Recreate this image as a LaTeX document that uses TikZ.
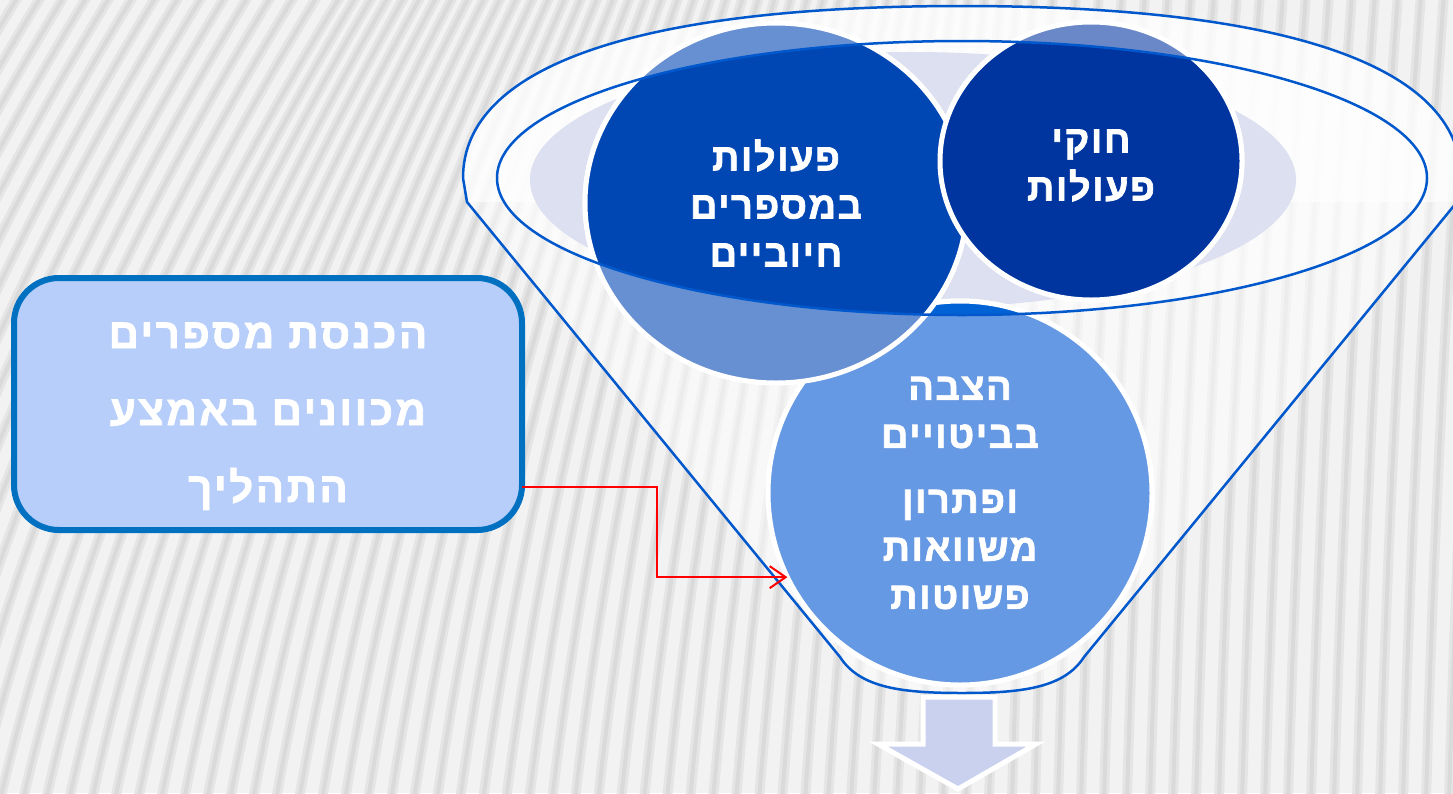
\documentclass[tikz,border=0pt]{standalone}
\usepackage{fontspec}
\usetikzlibrary{shapes.geometric,arrows.meta}
\newfontfamily\hebfont[Script=Hebrew,LetterSpace=4,FakeBold=1.8]{Liberation Sans Bold}
\newfontfamily\boxfont[Script=Hebrew,LetterSpace=6,FakeBold=1.8]{Liberation Sans Bold}
\TeXXeTstate=1

\definecolor{bgcol}{HTML}{F2F2F2}
\definecolor{stripecol}{HTML}{DADADA}
\definecolor{stripesoft}{HTML}{E5E5E5}
\definecolor{funnelblue}{HTML}{0058CC}
\definecolor{lavender}{HTML}{DCE0F0}
\definecolor{boxfill}{HTML}{B8CEFA}
\definecolor{boxline}{HTML}{0070C0}
\definecolor{arrowfill}{HTML}{C9D1EF}
\definecolor{lightthree}{HTML}{6699E3}
\definecolor{darkthree}{HTML}{0062D4}
\definecolor{lightone}{HTML}{6690D2}
\definecolor{darkone}{HTML}{0047B4}
\definecolor{lighttwo}{HTML}{6A88C8}
\definecolor{darktwo}{HTML}{0035A0}

% bubbles: centre / x radius / y radius / light fill / dark fill
\def\blist{{(960,493)/192/192/lightthree/darkthree}, {(776,203)/191/180/lightone/darkone}, {(1091,161)/151/139/lighttwo/darktwo}}

\tikzstyle{bubble}=[draw=white, line width=5pt]
\tikzstyle{funnelline}=[draw=funnelblue, line width=2.5pt]
\tikzstyle{bubbletext}=[ellipse, inner sep=0pt, outer sep=0pt, text=white, align=center,
  font=\hebfont\fontsize{38}{48}\selectfont]
\tikzstyle{inputbox}=[rectangle, rounded corners=45pt, draw=boxline, line width=6pt, fill=boxfill,
  minimum width=508pt, minimum height=252pt, outer sep=0pt, text=white, align=center,
  font=\boxfont\fontsize{42}{77}\selectfont]
\tikzstyle{feedarrow}=[draw=red, line width=2pt, -{Straight Barb[length=16pt, width=22pt]}]
\tikzstyle{downarrow}=[draw=white, line width=5pt, fill=arrowfill, line join=miter]

\begin{document}
\begin{tikzpicture}[x=1pt, y=-1pt]
  \useasboundingbox (0,0) rectangle (1453,793);

  % striped background
  \fill[bgcol] (0,0) rectangle (1453,793);
  \begin{scope}
    \clip (0,0) rectangle (1453,793);
    \foreach \i in {-20,...,64} {
      \pgfmathsetmacro\xb{\i*23}
      \pgfmathsetmacro\f{max(0.12, min(1, 1-0.88*\xb/1000))}
      \pgfmathsetmacro\xt{\xb+341*\f}
      \pgfmathsetmacro\ca{\xb+0.24*\f*264}
      \pgfmathsetmacro\cb{\xt-0.62*\f*264}
      \draw[stripesoft, line width=10pt] (\xb,800) .. controls (\ca,529) and (\cb,264) .. (\xt,-5);
      \draw[stripecol, line width=4pt] (\xb,800) .. controls (\ca,529) and (\cb,264) .. (\xt,-5);
    }
  \end{scope}

  % funnel body and top
  \fill[white, opacity=.5] (467,202) -- (463,178) .. controls (463,66) and (638,6) .. (962,6)
    .. controls (1286,6) and (1461,66) .. (1461,178) -- (1457,202) -- (1084,657)
    .. controls (1064,688) and (1022,693) .. (962,693) .. controls (902,693) and (860,688) .. (840,657) -- cycle;
  \fill[white, opacity=.6] (467,202) -- (463,178) .. controls (463,66) and (638,6) .. (962,6)
    .. controls (1286,6) and (1461,66) .. (1461,178) -- (1457,202) -- cycle;
  \fill[white, opacity=.5] (962,178) ellipse [x radius=465, y radius=137];
  \fill[lavender] (913,180) ellipse [x radius=383, y radius=128];

  % bubbles
  \foreach \pos/\rx/\ry/\light/\dark in \blist {
    \path[bubble, fill=\light] \pos ellipse [x radius=\rx, y radius=\ry];
  }
  \begin{scope}
    \clip (962,178) ellipse [x radius=465, y radius=137];
    \foreach \pos/\rx/\ry/\light/\dark in \blist {
      \path[bubble, fill=\dark] \pos ellipse [x radius=\rx, y radius=\ry];
    }
  \end{scope}

  % funnel outline
  \path[funnelline] (962,178) ellipse [x radius=465, y radius=137];
  \path[funnelline, line join=round] (467,202) -- (463,178) .. controls (463,66) and (638,6) .. (962,6)
    .. controls (1286,6) and (1461,66) .. (1461,178) -- (1457,202) -- (1084,657)
    .. controls (1064,688) and (1022,693) .. (962,693) .. controls (902,693) and (860,688) .. (840,657) -- cycle;

  \node[bubbletext, minimum width=382pt, minimum height=360pt] (c1) at (776,203)
    {\beginR פעולות\endR\\\beginR במספרים\endR\\\beginR חיוביים\endR};
  \node[bubbletext, minimum width=302pt, minimum height=278pt] (c2) at (1091,161)
    {\rule{0pt}{32pt}\beginR חוקי\endR\\\beginR פעולות\endR};
  \node[bubbletext, minimum width=384pt, minimum height=384pt] (c3) at (960,493)
    {\beginR הצבה\endR\\\beginR בביטויים\endR\\[17pt]\beginR ופתרון\endR\\\beginR משוואות\endR\\\beginR פשוטות\endR};

  \node[inputbox] (box) at (268,404)
    {\rule{0pt}{50pt}\beginR הכנסת מספרים\endR\\\beginR מכוונים באמצע\endR\\\beginR התהליך\endR};

  \draw[feedarrow] ([yshift=-83pt]box.east) -- ++(135,0) |- (c3.206);

  \path[downarrow] (923,697) -- (995,697) -- (995,744) -- (1036,744) -- (958,789)
    -- (878,744) -- (923,744) -- cycle;
\end{tikzpicture}
\end{document}
